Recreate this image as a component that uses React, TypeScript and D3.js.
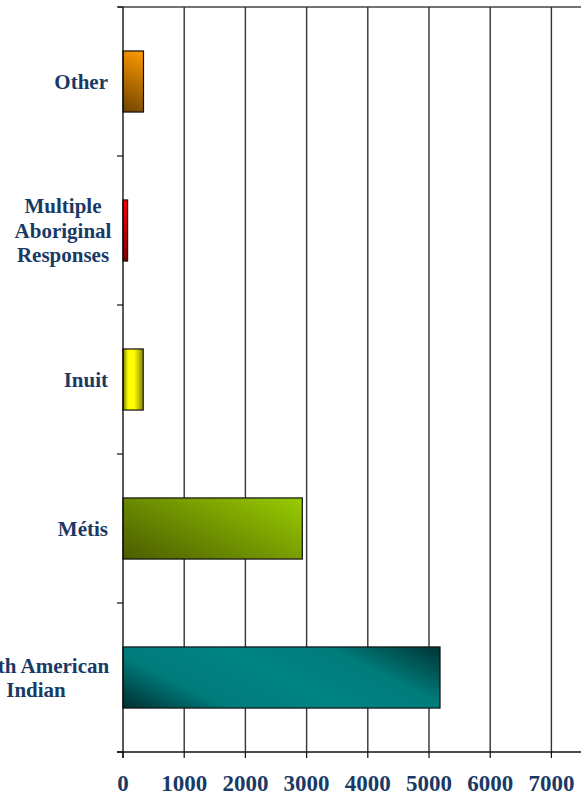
import React from "react";
import * as d3 from "d3";

const categories = ["Other", "Multiple Aboriginal Responses", "Inuit", "Métis", "North American Indian"];
const labelLines = [["Other"], ["Multiple", "Aboriginal", "Responses"], ["Inuit"], ["Métis"], ["North American", "Indian"]];
const values = [335, 75, 330, 2930, 5180];
const xTicks = [0, 1000, 2000, 3000, 4000, 5000, 6000, 7000];
const gradientStops = [
  [["0%", "#6e4400"], ["100%", "#ff9a00"]],
  [["0%", "#7a0000"], ["100%", "#ff0000"]],
  [["0%", "#7a7a00"], ["25%", "#ffff00"], ["55%", "#ffff00"], ["100%", "#8a8a00"]],
  [["0%", "#4a5c00"], ["100%", "#99cc00"]],
  [["0%", "#002e2e"], ["24%", "#007b7b"], ["50%", "#008383"], ["74%", "#007b7b"], ["100%", "#003434"]],
];
const gradientKinds = ["diag", "diag", "horiz", "diag", "diag"];

const W = 581;
const H = 796;
const left = 123;
const top = 7;
const bottom = 752;

export default function App() {
  const x = d3.scaleLinear().domain([0, 8000]).range([left, left + 8 * 61.2]);
  const y = d3.scaleBand<string>().domain(categories).range([top, bottom]).padding(0);
  const bh = y.bandwidth() * 0.41;
  const labelColor = "#1a3a66";
  const font = "'Liberation Serif', 'Times New Roman', serif";
  const bars = categories.map((c, i) => {
    const yc = (y(c) as number) + y.bandwidth() / 2;
    const bx = x(0);
    const bw = x(values[i]) - x(0);
    const by = yc - bh / 2;
    return { c, i, bx, bw, by, yc };
  });
  return (
    <svg width={W} height={H} style={{ position: "absolute", left: 0, top: 0, background: "#fff" }}>
      <defs>
        {bars.map((b) => {
          const stops = gradientStops[b.i].map(([o, col]) => <stop key={o} offset={o} stopColor={col} />);
          if (gradientKinds[b.i] === "horiz") {
            return (
              <linearGradient key={b.i} id={`g${b.i}`} x1={0} y1={0} x2={1} y2={0}>
                {stops}
              </linearGradient>
            );
          }
          const ux = 1 / Math.sqrt(5);
          const uy = -2 / Math.sqrt(5);
          const len = (b.bw + 2 * bh) / Math.sqrt(5);
          const sx = b.bx;
          const sy = b.by + bh;
          return (
            <linearGradient
              key={b.i}
              id={`g${b.i}`}
              gradientUnits="userSpaceOnUse"
              x1={sx}
              y1={sy}
              x2={sx + ux * len}
              y2={sy + uy * len}
            >
              {stops}
            </linearGradient>
          );
        })}
      </defs>
      <line x1={left - 5} x2={W} y1={top} y2={top} stroke="#444" strokeWidth={1.5} />
      {xTicks.slice(1).map((t) => (
        <line key={t} x1={x(t)} x2={x(t)} y1={top} y2={bottom} stroke="#333" strokeWidth={1.4} />
      ))}
      {bars.map((b) => (
        <rect
          key={b.c}
          x={b.bx}
          y={b.by}
          width={b.bw}
          height={bh}
          fill={`url(#g${b.i})`}
          stroke="#111"
          strokeWidth={1.2}
        />
      ))}
      <line x1={left} x2={left} y1={top} y2={bottom + 6} stroke="#111" strokeWidth={1.4} />
      {[...categories.map((c) => y(c) as number), bottom].map((v, i) => (
        <line key={i} x1={left - 6} x2={left} y1={v} y2={v} stroke="#111" strokeWidth={1.2} />
      ))}
      <line x1={left - 6} x2={W} y1={bottom} y2={bottom} stroke="#111" strokeWidth={1.4} />
      {xTicks.map((t) => (
        <line key={t} x1={x(t)} x2={x(t)} y1={bottom} y2={bottom + 6} stroke="#111" strokeWidth={1.2} />
      ))}
      {xTicks.map((t) => (
        <text
          key={t}
          x={x(t)}
          y={791}
          textAnchor="middle"
          fontFamily={font}
          fontWeight="bold"
          fontSize={23}
          fill={labelColor}
        >
          {t}
        </text>
      ))}
      {bars.map((b) => {
        const lines = labelLines[b.i];
        const lh = 24.5;
        const y0 = b.yc - ((lines.length - 1) * lh) / 2;
        const multi = lines.length > 1;
        const cx = lines.length === 3 ? 63 : 36;
        return (
          <text
            key={b.c}
            textAnchor={multi ? "middle" : "end"}
            fontFamily={font}
            fontWeight="bold"
            fontSize={21}
            fill={labelColor}
          >
            {lines.map((l, j) => (
              <tspan key={j} x={multi ? cx : 108} y={y0 + j * lh} dy="0.35em">
                {l}
              </tspan>
            ))}
          </text>
        );
      })}
    </svg>
  );
}
